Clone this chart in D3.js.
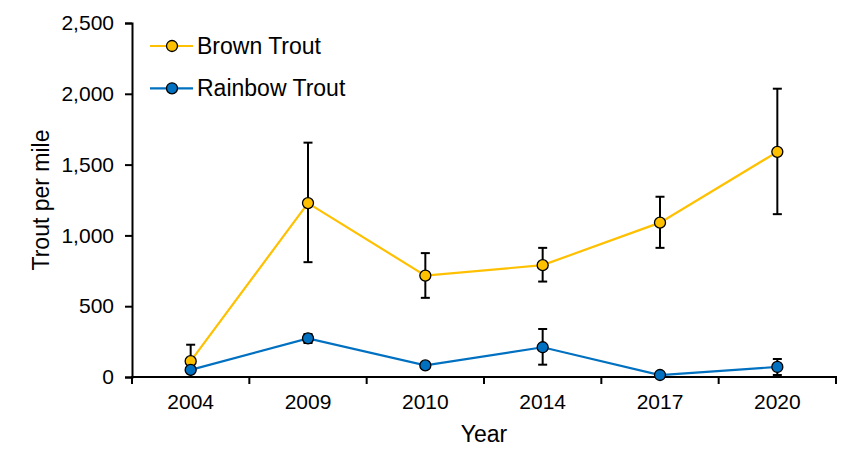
<!DOCTYPE html>
<html>
<head>
<meta charset="utf-8">
<script src="https://cdn.jsdelivr.net/npm/d3@7"></script>
<style>
  body { margin: 0; background: #fff; }
  svg { display: block; font-family: "Liberation Sans", Arial, sans-serif; }
</style>
</head>
<body>
<svg id="chart" width="860" height="473"></svg>
<script>
"use strict";

var years = ['2004', '2009', '2010', '2014', '2017', '2020'];
var y_ticks = [0, 500, 1000, 1500, 2000, 2500];

// Mean trout per mile, with lower / upper error bar ends.
var brown_values = [112, 1228, 716, 790, 1090, 1590];
var brown_lower  = [0, 811, 559, 674, 912, 1150];
var brown_upper  = [228, 1655, 875, 912, 1273, 2036];

var rainbow_values = [50, 273, 82, 210, 14, 71];
var rainbow_lower  = [38, 240, 68, 87, 6, 14];
var rainbow_upper  = [62, 303, 96, 339, 22, 127];

var series = [
  { name: 'Brown Trout', color: '#FFC000', values: brown_values, lower: brown_lower, upper: brown_upper },
  { name: 'Rainbow Trout', color: '#0070C0', values: rainbow_values, lower: rainbow_lower, upper: rainbow_upper }
];

var svg = d3.select('#chart');
var margin = { left: 132, right: 24, top: 23, bottom: 96 };
var width = 860 - margin.left - margin.right;
var height = 473 - margin.top - margin.bottom;

var g = svg.append('g').attr('transform', 'translate(' + margin.left + ',' + margin.top + ')');

var x = d3.scaleBand().domain(years).range([0, width]);
var y = d3.scaleLinear().domain([0, 2500]).range([height, 0]);

// Y axis
var y_axis = g.append('g')
  .call(d3.axisLeft(y).tickValues(y_ticks).tickSize(7).tickPadding(11).tickFormat(d3.format(',')));
y_axis.select('.domain').attr('stroke', '#000').attr('stroke-width', 2);
y_axis.selectAll('.tick line').attr('stroke', '#000').attr('stroke-width', 2);
y_axis.selectAll('.tick text').attr('font-size', 21).attr('fill', '#000')
  .attr('font-family', '"Liberation Sans", Arial, sans-serif');

// X axis: labels at band centres, ticks at band boundaries
var x_axis = g.append('g').attr('transform', 'translate(0,' + height + ')')
  .call(d3.axisBottom(x).tickSize(0).tickPadding(17));
x_axis.select('.domain').remove();
x_axis.selectAll('.tick text').attr('font-size', 21).attr('fill', '#000')
  .attr('font-family', '"Liberation Sans", Arial, sans-serif');

var boundaries = years.map(function(d) { return x(d); }).concat([width]);
g.append('g').selectAll('line').data(boundaries).enter().append('line')
  .attr('x1', function(d) { return d; }).attr('x2', function(d) { return d; })
  .attr('y1', height).attr('y2', height + 7)
  .attr('stroke', '#000').attr('stroke-width', 2);
g.append('line')
  .attr('x1', -1).attr('x2', width + 1).attr('y1', height).attr('y2', height)
  .attr('stroke', '#000').attr('stroke-width', 2);

// Axis titles
svg.append('text')
  .attr('x', margin.left + width / 2).attr('y', 442)
  .attr('text-anchor', 'middle').attr('font-size', 23).text('Year');
svg.append('text')
  .attr('transform', 'translate(49,' + (margin.top + height / 2) + ') rotate(-90)')
  .attr('text-anchor', 'middle').attr('font-size', 23).text('Trout per mile');

var cx = function(i) { return x(years[i]) + x.bandwidth() / 2; };
var line = d3.line()
  .x(function(d, i) { return cx(i); })
  .y(function(d) { return y(d); });

var cap = 4.5;

series.forEach(function(s) {
  var sg = g.append('g');
  sg.append('path').datum(s.values)
    .attr('d', line).attr('fill', 'none')
    .attr('stroke', s.color).attr('stroke-width', 2.2);

  var err = sg.append('g').selectAll('g').data(s.values).enter().append('g');
  err.append('line')
    .attr('x1', function(d, i) { return cx(i); }).attr('x2', function(d, i) { return cx(i); })
    .attr('y1', function(d, i) { return y(s.lower[i]); })
    .attr('y2', function(d, i) { return y(s.upper[i]); })
    .attr('stroke', '#000').attr('stroke-width', 2);
  [s.lower, s.upper].forEach(function(ends) {
    err.append('line')
      .attr('x1', function(d, i) { return cx(i) - cap; })
      .attr('x2', function(d, i) { return cx(i) + cap; })
      .attr('y1', function(d, i) { return y(ends[i]); })
      .attr('y2', function(d, i) { return y(ends[i]); })
      .attr('stroke', '#000').attr('stroke-width', 2);
  });

  sg.append('g').selectAll('circle').data(s.values).enter().append('circle')
    .attr('cx', function(d, i) { return cx(i); })
    .attr('cy', function(d) { return y(d); })
    .attr('r', 5.5)
    .attr('fill', s.color).attr('stroke', '#000').attr('stroke-width', 1.3);
});

// Legend
var legend = svg.append('g').selectAll('g').data(series).enter().append('g')
  .attr('transform', function(d, i) { return 'translate(150,' + (46 + i * 42.3) + ')'; });
legend.append('line')
  .attr('x1', 0).attr('x2', 43).attr('y1', 0).attr('y2', 0)
  .attr('stroke', function(d) { return d.color; }).attr('stroke-width', 2.2);
legend.append('circle')
  .attr('cx', 22).attr('cy', 0).attr('r', 5.5)
  .attr('fill', function(d) { return d.color; })
  .attr('stroke', '#000').attr('stroke-width', 1.3);
legend.append('text')
  .attr('x', 47).attr('y', 8).attr('font-size', 23)
  .text(function(d) { return d.name; });
</script>
</body>
</html>
